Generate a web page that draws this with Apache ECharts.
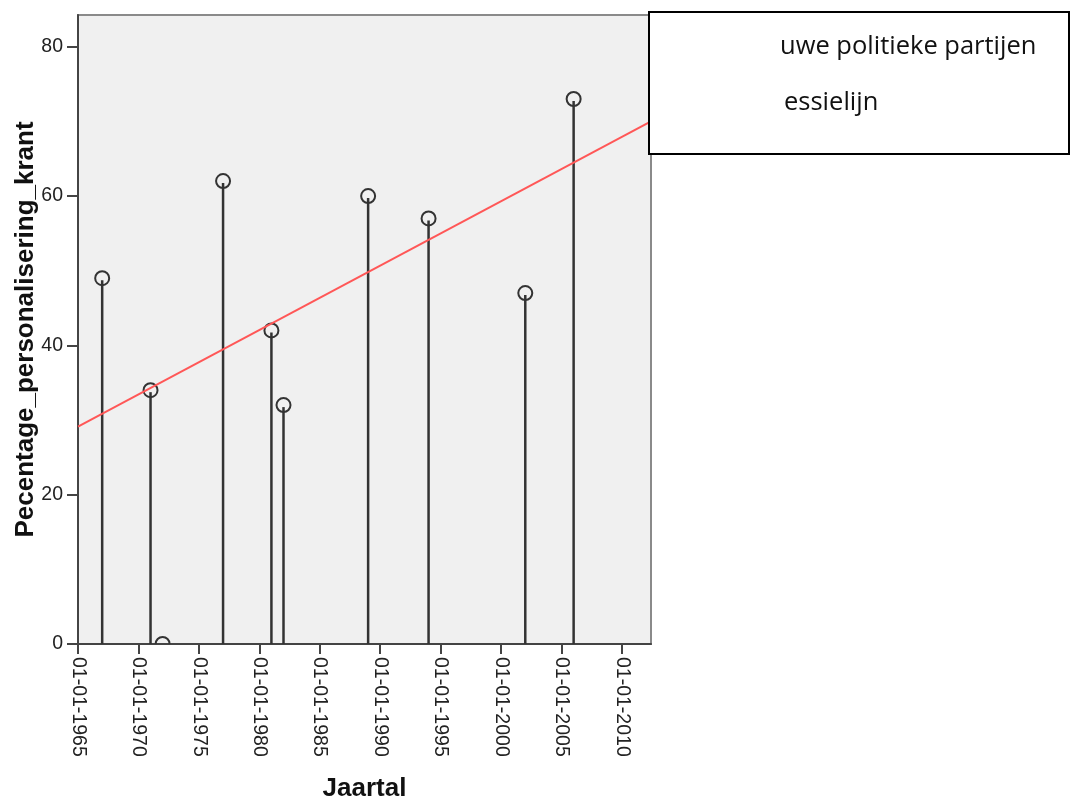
<!DOCTYPE html>
<html>
<head>
<meta charset="utf-8">
<script src="https://cdn.jsdelivr.net/npm/echarts@6/dist/echarts.min.js"></script>
<style>
html,body{margin:0;padding:0;background:#fff;}
#chart{width:1072px;height:798px;}
</style>
</head>
<body>
<div id="chart"></div>
<script>
// Data (years are 1 January of each year)
const years = [1967, 1971, 1972, 1977, 1981, 1982, 1989, 1994, 2002, 2006];
const percentages = [49, 34, 0, 62, 42, 32, 60, 57, 47, 73];
const xTickYears = [1965, 1970, 1975, 1980, 1985, 1990, 1995, 2000, 2005, 2010];
const yTicks = [0, 20, 40, 60, 80];
const legendTexts = ['uwe politieke partijen', 'essielijn'];
const xAxisTitle = 'Jaartal';
const yAxisTitle = 'Pecentage_personalisering_krant';

const xMin = 1965, xMax = 2012.4;
const yMin = 0, yMax = 84.25;

// least-squares regression line (as in the original: "Regressielijn")
const n = years.length;
const mx = years.reduce((a, b) => a + b, 0) / n;
const my = percentages.reduce((a, b) => a + b, 0) / n;
let sxy = 0, sxx = 0;
for (let i = 0; i < n; i++) { sxy += (years[i] - mx) * (percentages[i] - my); sxx += (years[i] - mx) ** 2; }
const slope = sxy / sxx;
const fit = x => my + slope * (x - mx);

const points = years.map((y, i) => [y, percentages[i]]);

const R = 7;
function renderDrop(params, api) {
  const x = api.value(0), y = api.value(1);
  const top = api.coord([x, y]);
  const base = api.coord([x, yMin]);
  const children = [];
  if (base[1] - top[1] > R) {
    children.push({
      type: 'line',
      shape: { x1: top[0], y1: base[1], x2: top[0], y2: top[1] + 2 },
      style: { stroke: '#333', lineWidth: 2.5 }
    });
  }
  children.push({
    type: 'circle',
    shape: { cx: top[0], cy: top[1], r: R },
    style: { fill: 'none', stroke: '#333', lineWidth: 2 }
  });
  return { type: 'group', children };
}

const tickFont = 'Liberation Sans';
const chart = echarts.init(document.getElementById('chart'));
chart.setOption({
  animation: false,
  backgroundColor: '#ffffff',
  grid: {
    left: 78, top: 15, right: 421, bottom: 154,
    outerBoundsMode: 'none', containLabel: false,
    show: true, backgroundColor: '#f0f0f0', borderColor: '#8a8a8a', borderWidth: 2
  },
  xAxis: {
    type: 'value', min: xMin, max: xMax, interval: 5,
    name: xAxisTitle, nameLocation: 'middle', nameGap: 132, nameMoveOverlap: false,
    nameTextStyle: { fontFamily: 'Liberation Sans', fontWeight: 'bold', fontSize: 26, color: '#111' },
    axisLine: { show: true, onZero: false, lineStyle: { color: '#444', width: 2 } },
    axisTick: { show: true, length: 10, customValues: xTickYears, lineStyle: { color: '#444', width: 2 } },
    axisLabel: {
      customValues: xTickYears, rotate: -90, margin: 13,
      fontFamily: tickFont, fontSize: 19.5, color: '#222',
      formatter: v => '01-01-' + v
    },
    splitLine: { show: false }
  },
  yAxis: {
    type: 'value', min: yMin, max: yMax, interval: 20,
    name: yAxisTitle, nameLocation: 'middle', nameGap: 39, nameRotate: 90, nameMoveOverlap: false,
    nameTextStyle: { fontFamily: 'Liberation Sans', fontWeight: 'bold', fontSize: 26, color: '#111' },
    axisLine: { show: true, onZero: false, lineStyle: { color: '#444', width: 2 } },
    axisTick: { show: true, length: 11, customValues: yTicks, lineStyle: { color: '#444', width: 2 } },
    axisLabel: {
      customValues: yTicks, margin: 15,
      fontFamily: tickFont, fontSize: 19.5, color: '#222'
    },
    splitLine: { show: false }
  },
  series: [
    {
      type: 'custom', data: points, renderItem: renderDrop, clip: true, z: 2,
      encode: { x: 0, y: 1 }, silent: true
    },
    {
      type: 'line', data: [[xMin, fit(xMin)], [xMax, fit(xMax)]],
      showSymbol: false, symbol: 'none', z: 4,
      lineStyle: { color: '#ff5757', width: 2 }, silent: true
    }
  ],
  graphic: [
    {
      type: 'rect', left: 648, top: 11, z: 100,
      shape: { width: 420, height: 142 },
      style: { fill: '#ffffff', stroke: '#000000', lineWidth: 2 }
    },
    {
      type: 'text', left: 780, top: 34, z: 101,
      style: { text: legendTexts[0], fontFamily: 'Open Sans', fontSize: 25.5, fill: '#111' }
    },
    {
      type: 'text', left: 784, top: 90, z: 101,
      style: { text: legendTexts[1], fontFamily: 'Open Sans', fontSize: 25.5, fill: '#111' }
    }
  ]
});
</script>
</body>
</html>
